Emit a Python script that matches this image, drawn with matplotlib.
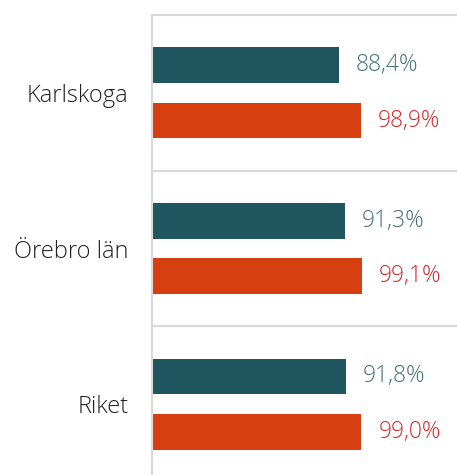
import matplotlib.pyplot as plt
import numpy as np

categories = ['Karlskoga', 'Örebro län', 'Riket']
series_a = [88.4, 91.3, 91.8]
series_b = [98.9, 99.1, 99.0]

col_a = '#1f5660'
col_b = '#d63f0f'
txt_a = '#45727a'
txt_b = '#d02a2a'
grid_col = '#d9d9d9'

plt.rcParams['font.family'] = ['Open Sans', 'DejaVu Sans']

fig = plt.figure(figsize=(4.57, 4.75), dpi=100)
ax = fig.add_axes([152 / 457, -7 / 475, 1 - 152 / 457, 467 / 475])

y = np.arange(len(categories))
h = 0.23
off = 0.178
ax.barh(y - off, series_a, height=h, color=col_a)
ax.barh(y + off, series_b, height=h, color=col_b)

for i in range(len(categories)):
    ax.text(series_a[i] + 8, y[i] - off, f"{series_a[i]:.1f}%".replace('.', ','),
            va='center', ha='left', fontsize=16.5, color=txt_a, fontweight='light')
    ax.text(series_b[i] + 8, y[i] + off, f"{series_b[i]:.1f}%".replace('.', ','),
            va='center', ha='left', fontsize=16.5, color=txt_b, fontweight='light')

for s in [0.5, 1.5]:
    ax.axhline(s, color=grid_col, lw=1.5)

ax.set_xlim(0, 144.2)
ax.set_ylim(2.5, -0.5)
ax.set_yticks(y)
ax.set_yticklabels(categories, fontsize=17, color='#222222', fontweight='light')
ax.tick_params(axis='y', length=0, pad=17)
ax.set_xticks([])

for side in ['right', 'bottom']:
    ax.spines[side].set_visible(False)
for side in ['left', 'top']:
    ax.spines[side].set_color(grid_col)
    ax.spines[side].set_linewidth(1.5)

fig.savefig('out.png', dpi=100)
